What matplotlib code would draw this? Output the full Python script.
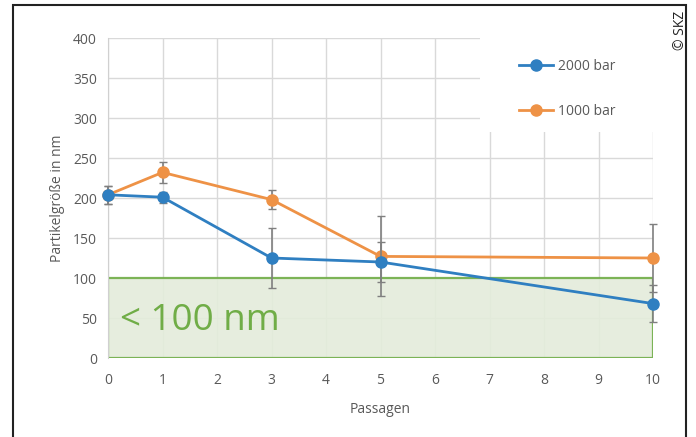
import matplotlib
matplotlib.use("Agg")
import matplotlib.pyplot as plt
from matplotlib.patches import Rectangle

passagen = [0, 1, 3, 5, 10]
size_2000 = [204, 201, 125, 120, 68]
err_2000 = [11, 7, 37, 25, 23]
size_1000 = [204, 232, 198, 127, 125]
err_1000 = [11, 13, 12, 50, 42]
xticks = list(range(0, 11))
yticks = list(range(0, 401, 50))

blue = '#2f7fc1'
orange = '#ee9246'
grey_txt = '#595959'

plt.rcParams['font.family'] = ['Open Sans', 'DejaVu Sans']

fig = plt.figure(figsize=(6.96, 4.37), dpi=100)
ax = fig.add_axes([108 / 696, 1 - 358 / 437, 545 / 696, 320 / 437])

# outer frame
fig.patches.append(Rectangle((13 / 696, -0.01), 673 / 696, 1 - 5 / 437 + 0.01,
                             transform=fig.transFigure, fill=False,
                             edgecolor='#222222', linewidth=1.5))

ax.set_xlim(0, 10)
ax.set_ylim(0, 400)
ax.set_xticks(xticks)
ax.set_yticks(yticks)
ax.grid(True, color='#d9d9d9', linewidth=1)
ax.set_axisbelow(True)
for s in ['top', 'right', 'bottom']:
    ax.spines[s].set_visible(False)
ax.spines['left'].set_color('#d0d0d0')
ax.tick_params(length=0, colors=grey_txt, labelsize=10)
ax.tick_params(axis='x', pad=11)
ax.tick_params(axis='y', pad=8)

# < 100 nm area
ax.add_patch(Rectangle((0, 0), 10, 100, facecolor='#e4ecdb', edgecolor='#70ad47',
                       linewidth=1.6, zorder=1.5, alpha=0.9))
ax.text(0.22, 46, '< 100 nm', color='#70ad47', fontsize=26.5, va='center', ha='left',
        zorder=2)

ax.errorbar(passagen, size_2000, yerr=err_2000, color=blue, ecolor='#7f7f7f',
            elinewidth=1.2, capsize=3, marker='o', markersize=8, linewidth=2,
            label='2000 bar', zorder=4, clip_on=False)
ax.errorbar(passagen, size_1000, yerr=err_1000, color=orange, ecolor='#7f7f7f',
            elinewidth=1.2, capsize=3, marker='o', markersize=8, linewidth=2,
            label='1000 bar', zorder=3, clip_on=False)

# white legend area covering the grid
ax.add_patch(Rectangle((0.6826, 0.706), 0.3174, 0.294, transform=ax.transAxes,
                       facecolor='white', edgecolor='none', zorder=1.2))

handles, labels = ax.get_legend_handles_labels()
handles = [h[0] for h in handles]
leg = ax.legend(handles, labels, loc='upper left', bbox_to_anchor=(0.754, 0.934),
                frameon=False, borderpad=0, borderaxespad=0,
                labelspacing=2.12, handlelength=2.45, handletextpad=0.35,
                fontsize=10, labelcolor=grey_txt)
leg.set_zorder(5)

ax.set_xlabel('Passagen', color=grey_txt, fontsize=10, labelpad=10)
ax.set_ylabel('Partikelgröße in nm', color=grey_txt, fontsize=10, labelpad=6)

fig.text(681 / 696, 1 - 30 / 437, '© SKZ', rotation=90, ha='center', va='center',
         fontsize=10, color='#222222')

fig.savefig('out.png', dpi=100)
